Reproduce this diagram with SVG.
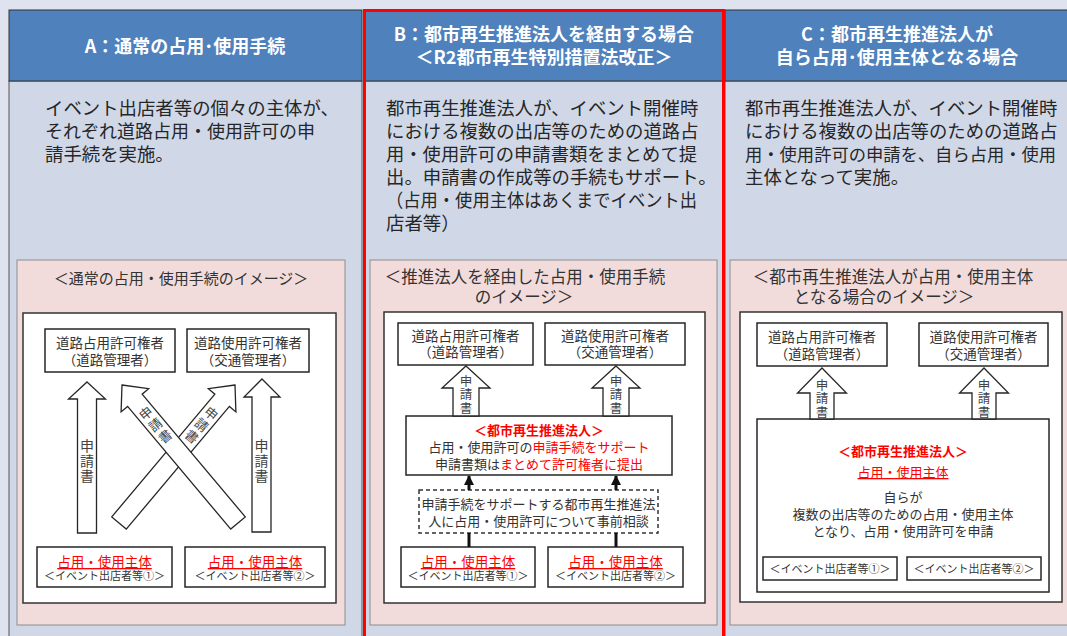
<svg xmlns="http://www.w3.org/2000/svg" width="1067" height="636" viewBox="0 0 1067 636">
<style>
.hdr{fill:#4f81bd;stroke:#333;stroke-width:1}
.body{fill:#d0d8e8;stroke:#555;stroke-width:1}
.ht{font-family:"Noto Sans CJK JP","Noto Sans",sans-serif;font-weight:bold;font-size:18px;fill:#fff;text-anchor:middle}
.bt{font-family:"Noto Sans CJK JP","Noto Sans",sans-serif;font-size:18.4px;fill:#262626}
.pink{fill:#f2dcdb;stroke:#8c8c8c;stroke-width:1}
.pt{font-family:"Noto Sans CJK JP","Noto Sans",sans-serif;font-size:16.5px;fill:#333;text-anchor:middle}
.wbox{fill:#fff;stroke:#333;stroke-width:1.5}
.box{fill:#fff;stroke:#262626;stroke-width:1.5}
.dbox{fill:#fff;stroke:#333;stroke-width:1.5;stroke-dasharray:4 3}
.t{font-family:"Noto Sans CJK JP","Noto Sans",sans-serif;font-size:13.5px;fill:#333;text-anchor:middle}
.t13{font-size:13px}
.s{font-size:11px;fill:#333}
.red{fill:#ff0000}
.u{text-decoration:underline}
.rb{font-weight:bold;fill:#ff0000}
.barrow{fill:#fff;stroke:#262626;stroke-width:1.3;stroke-linejoin:miter}
.vt{font-family:"Noto Sans CJK JP","Noto Sans",sans-serif;font-size:12.5px;fill:#444;text-anchor:middle;writing-mode:vertical-rl;letter-spacing:1px}
.conn{stroke:#111;stroke-width:3;fill:none}
</style>
<defs>
<marker id="ah" viewBox="0 0 10 10" refX="9" refY="5" markerWidth="10" markerHeight="10" markerUnits="userSpaceOnUse" orient="auto"><path d="M0,0 L10,5 L0,10 Z" fill="#111"/></marker>
</defs>
<rect x="0" y="0" width="1067" height="636" fill="#dfe2ef"/>

<!-- Column A -->
<g id="colA">
<rect class="body" x="9" y="81" width="353" height="560"/>
<rect class="hdr" x="9" y="10" width="353" height="71"/>
<text class="ht" x="185" y="53">A：通常の占用･使用手続</text>
<text class="bt" x="45" y="115">イベント出店者等の個々の主体が、</text>
<text class="bt" x="45" y="138" textLength="270" lengthAdjust="spacingAndGlyphs">それぞれ道路占用・使用許可の申</text>
<text class="bt" x="45" y="161">請手続を実施。</text>
<rect class="pink" x="17" y="260" width="328" height="365"/>
<text class="pt" x="181" y="283.5" style="font-size:15px">＜通常の占用・使用手続のイメージ＞</text>
<rect class="wbox" x="23" y="313" width="313" height="290"/>
</g>
<g id="A-road-occupy">
<rect class="box" x="45" y="329" width="130" height="43"/>
<text class="t" x="110" y="348">道路占用許可権者<tspan x="110" dy="17">（道路管理者）</tspan></text>
</g>
<g id="A-road-use">
<rect class="box" x="187" y="329" width="122" height="43"/>
<text class="t" x="248" y="348">道路使用許可権者<tspan x="248" dy="17">（交通管理者）</tspan></text>
</g>
<g id="A-subject1">
<rect class="box" x="37" y="547" width="135" height="40"/>
<text class="t" x="104.5" y="567"><tspan class="red u">占用・使用主体</tspan><tspan class="s" x="104.5" dy="13">＜イベント出店者等①＞</tspan></text>
</g>
<g id="A-subject2">
<rect class="box" x="185" y="547" width="140" height="40"/>
<text class="t" x="255" y="567"><tspan class="red u">占用・使用主体</tspan><tspan class="s" x="255" dy="13">＜イベント出店者等②＞</tspan></text>
</g>

<!-- Column B -->
<g id="colB">
<rect class="body" x="364" y="81" width="360" height="560"/>
<rect class="hdr" x="364" y="10" width="360" height="71"/>
<text class="ht" x="544" y="41">B：都市再生推進法人を経由する場合</text>
<text class="ht" x="544" y="64">＜R2都市再生特別措置法改正＞</text>
<text class="bt" x="386" y="115">都市再生推進法人が、イベント開催時</text>
<text class="bt" x="386" y="138">における複数の出店等のための道路占</text>
<text class="bt" x="386" y="161" textLength="311" lengthAdjust="spacingAndGlyphs">用・使用許可の申請書類をまとめて提</text>
<text class="bt" x="386" y="184">出。申請書の作成等の手続もサポート。</text>
<text class="bt" x="386" y="207" textLength="311" lengthAdjust="spacingAndGlyphs">（占用・使用主体はあくまでイベント出</text>
<text class="bt" x="386" y="230">店者等）</text>
<rect class="pink" x="370" y="260" width="347" height="365"/>
<text class="pt" x="525" y="283">＜推進法人を経由した占用・使用手続</text>
<text class="pt" x="524" y="303">のイメージ＞</text>
<rect class="wbox" x="384" y="312" width="321" height="291"/>
</g>
<g id="B-road-occupy">
<rect class="box" x="398" y="323" width="135" height="42"/>
<text class="t" x="465.5" y="341">道路占用許可権者<tspan x="465.5" dy="16">（道路管理者）</tspan></text>
</g>
<g id="B-road-use">
<rect class="box" x="545" y="323" width="140" height="42"/>
<text class="t" x="615" y="341">道路使用許可権者<tspan x="615" dy="16">（交通管理者）</tspan></text>
</g>
<g id="B-corp">
<rect class="box" x="406" y="416" width="266" height="59"/>
<text class="t t13" x="539" y="435"><tspan class="rb">＜都市再生推進法人＞</tspan><tspan x="539" dy="17">占用・使用許可の</tspan><tspan class="red">申請手続をサポート</tspan><tspan x="539" dy="17">申請書類は</tspan><tspan class="red">まとめて許可権者に提出</tspan></text>
</g>
<g id="B-consult">
<rect class="dbox" x="419" y="490" width="239" height="43"/>
<text class="t t13" x="538.5" y="509">申請手続をサポートする都市再生推進法<tspan x="538.5" dy="17">人に占用・使用許可について事前相談</tspan></text>
</g>
<g id="B-subject1">
<rect class="box" x="401" y="547" width="134" height="40"/>
<text class="t" x="468" y="567"><tspan class="red u">占用・使用主体</tspan><tspan class="s" x="468" dy="13">＜イベント出店者等①＞</tspan></text>
</g>
<g id="B-subject2">
<rect class="box" x="548" y="547" width="135" height="40"/>
<text class="t" x="615.5" y="567"><tspan class="red u">占用・使用主体</tspan><tspan class="s" x="615.5" dy="13">＜イベント出店者等②＞</tspan></text>
</g>

<!-- Column C -->
<g id="colC">
<rect class="body" x="725" y="81" width="350" height="560"/>
<rect class="hdr" x="725" y="10" width="350" height="71"/>
<text class="ht" x="897" y="41">C：都市再生推進法人が</text>
<text class="ht" x="897" y="64">自ら占用･使用主体となる場合</text>
<text class="bt" x="745" y="115">都市再生推進法人が、イベント開催時</text>
<text class="bt" x="745" y="138">における複数の出店等のための道路占</text>
<text class="bt" x="745" y="161" style="font-size:17.3px">用・使用許可の申請を、自ら占用・使用</text>
<text class="bt" x="745" y="184">主体となって実施。</text>
<rect class="pink" x="730" y="260" width="345" height="365"/>
<text class="pt" x="893" y="283">＜都市再生推進法人が占用・使用主体</text>
<text class="pt" x="884" y="303">となる場合のイメージ＞</text>
<rect class="wbox" x="740" y="312" width="322" height="290"/>
</g>
<g id="C-road-occupy">
<rect class="box" x="757" y="323" width="130" height="43"/>
<text class="t" x="822" y="342">道路占用許可権者<tspan x="822" dy="17">（道路管理者）</tspan></text>
</g>
<g id="C-road-use">
<rect class="box" x="919" y="323" width="129" height="43"/>
<text class="t" x="983.5" y="342">道路使用許可権者<tspan x="983.5" dy="17">（交通管理者）</tspan></text>
</g>
<g id="C-corp">
<rect class="box" x="757" y="419" width="292" height="173"/>
<text class="t t13" x="903" y="456"><tspan class="rb">＜都市再生推進法人＞</tspan><tspan class="red u" x="903" dy="21">占用・使用主体</tspan><tspan x="903" dy="25">自らが</tspan><tspan x="903" dy="17">複数の出店等のための占用・使用主体</tspan><tspan x="903" dy="17">となり、占用・使用許可を申請</tspan></text>
</g>
<g id="C-ev1">
<rect class="box" x="763" y="557" width="134" height="23"/>
<text class="t s" x="830" y="572.5">＜イベント出店者等①＞</text>
</g>
<g id="C-ev2">
<rect class="box" x="907" y="557" width="134" height="23"/>
<text class="t s" x="974" y="572.5">＜イベント出店者等②＞</text>
</g>

<!-- red highlight of column B -->
<rect x="364.5" y="10.5" width="359" height="630" fill="none" stroke="#ff0000" stroke-width="3"/>

<!-- Connectors -->
<g id="connectors">
<!-- A: vertical block arrows -->
<polygon class="barrow" points="87,382 105.5,399 96.5,399 96.5,533 77.5,533 77.5,399 68.5,399"/>
<text class="vt" style="font-size:14px" x="87" y="461">申請書</text>
<polygon class="barrow" points="262,379 280,397 271,397 271,532 252,532 252,397 244,397"/>
<text class="vt" style="font-size:14px" x="261.5" y="461">申請書</text>
<!-- A: diagonal (to road-use) -->
<polygon class="barrow" points="235,385 208.35,388.73 214.86,394.2 111.73,516.89 126.27,529.11 229.4,406.42 235.91,411.89"/>
<text class="vt" style="font-size:13px;letter-spacing:2px" transform="translate(235,385) rotate(40)" x="0" y="53">申請書</text>
<!-- A: diagonal (to road-occupy), on top -->
<polygon class="barrow" points="122,385 148.65,388.73 142.14,394.2 245.27,516.89 230.73,529.11 127.6,406.42 121.09,411.89"/>
<text class="vt" style="font-size:13px;letter-spacing:2px" transform="translate(122,385) rotate(-40)" x="0" y="53">申請書</text>

<!-- B block arrows -->
<polygon class="barrow" points="466,366 490,388 479,388 479,416 453,416 453,388 442,388"/>
<text class="vt" x="466" y="395">申請書</text>
<polygon class="barrow" points="616,366 640,388 629,388 629,416 603,416 603,388 592,388"/>
<text class="vt" x="616" y="395">申請書</text>
<!-- B small arrows -->
<line class="conn" x1="469" y1="490" x2="469" y2="476" marker-end="url(#ah)"/>
<line class="conn" x1="616" y1="490" x2="616" y2="476" marker-end="url(#ah)"/>
<line class="conn" x1="469" y1="547" x2="469" y2="533"/>
<line class="conn" x1="616" y1="547" x2="616" y2="533"/>

<!-- C block arrows -->
<polygon class="barrow" points="822,368 846.5,393 834,393 834,419 810,419 810,393 797.5,393"/>
<text class="vt" x="822" y="399">申請書</text>
<polygon class="barrow" points="984,368 1008.5,393 996,393 996,419 972,419 972,393 959.5,393"/>
<text class="vt" x="984" y="399">申請書</text>
</g>
</svg>
